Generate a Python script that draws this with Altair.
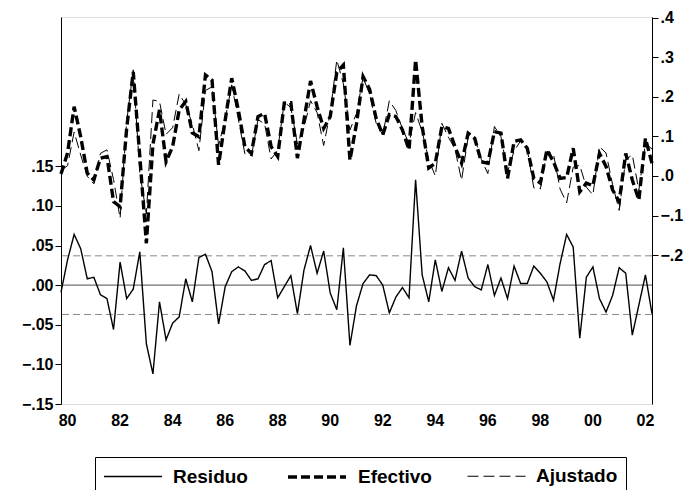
import altair as alt
import pandas as pd

# quarterly observations 1980Q2 .. 2002Q4
quarters = [str(p) for p in pd.period_range("1980Q2", "2002Q4", freq="Q")]

efectivo = [0.005, 0.058, 0.175, 0.099, 0.007, -0.010, 0.045, 0.049, -0.065, -0.078,
            0.120, 0.263, 0.050, -0.170, 0.080, 0.167, 0.036, 0.074, 0.167, 0.188,
            0.109, 0.099, 0.255, 0.242, 0.028, 0.141, 0.247, 0.167, 0.074, 0.057,
            0.150, 0.158, 0.074, 0.049, 0.184, 0.185, 0.045, 0.141, 0.240, 0.175,
            0.120, 0.150, 0.262, 0.280, 0.040, 0.132, 0.251, 0.219, 0.145, 0.104,
            0.155, 0.150, 0.116, 0.066, 0.293, 0.125, 0.020, 0.032, 0.125, 0.120,
            0.074, 0.032, 0.108, 0.095, 0.036, 0.032, 0.112, 0.108, -0.006, 0.087,
            0.091, 0.070, -0.006, -0.018, 0.066, 0.036, -0.006, -0.004, 0.070, -0.040,
            -0.018, -0.025, 0.057, 0.024, -0.035, -0.065, 0.057, -0.010, -0.061, 0.095,
            0.032]

ajustado = [0.014, 0.026, 0.111, 0.053, -0.001, -0.020, 0.057, 0.066, -0.009, -0.107,
            0.137, 0.268, 0.008, -0.096, 0.192, 0.188, 0.105, 0.122, 0.207, 0.180,
            0.130, 0.064, 0.216, 0.225, 0.077, 0.143, 0.230, 0.144, 0.056, 0.051,
            0.142, 0.132, 0.043, 0.065, 0.186, 0.173, 0.081, 0.122, 0.190, 0.160,
            0.077, 0.160, 0.293, 0.233, 0.116, 0.158, 0.249, 0.206, 0.133, 0.104,
            0.190, 0.165, 0.119, 0.082, 0.160, 0.112, 0.041, 0.000, 0.133, 0.098,
            0.068, -0.011, 0.099, 0.097, 0.042, 0.006, 0.125, 0.099, 0.011, 0.063,
            0.089, 0.068, -0.030, -0.033, 0.062, 0.055, -0.033, -0.068, 0.022, 0.027,
            -0.028, -0.048, 0.074, 0.058, -0.022, -0.087, 0.042, 0.053, -0.036, 0.082,
            0.068]

residuo = [-0.009, 0.032, 0.064, 0.046, 0.008, 0.010, -0.012, -0.017, -0.056, 0.029,
           -0.017, -0.005, 0.042, -0.074, -0.112, -0.021, -0.069, -0.048, -0.040, 0.008,
           -0.021, 0.035, 0.039, 0.017, -0.049, -0.002, 0.017, 0.023, 0.018, 0.006,
           0.008, 0.026, 0.031, -0.016, -0.002, 0.012, -0.036, 0.019, 0.050, 0.015,
           0.043, -0.010, -0.031, 0.047, -0.076, -0.026, 0.002, 0.013, 0.012, 0.000,
           -0.035, -0.015, -0.003, -0.016, 0.133, 0.013, -0.021, 0.032, -0.008, 0.022,
           0.006, 0.043, 0.009, -0.002, -0.006, 0.026, -0.013, 0.009, -0.017, 0.024,
           0.002, 0.002, 0.024, 0.015, 0.004, -0.019, 0.027, 0.064, 0.048, -0.067,
           0.010, 0.023, -0.017, -0.034, -0.013, 0.022, 0.015, -0.063, -0.025, 0.013,
           -0.036]

std_band = [0.037, -0.037]
year_labels = ["80", "82", "84", "86", "88", "90", "92", "94", "96", "98", "00", "02"]
year_label_pos = [1980.5, 1982.5, 1984.5, 1986.5, 1988.5, 1990.5, 1992.5, 1994.5,
                  1996.5, 1998.5, 2000.5, 2002.5]
year_ticks = list(range(1981, 2003))
left_ticks = [-0.15, -0.10, -0.05, 0.0, 0.05, 0.10, 0.15]
right_ticks = [-0.2, -0.1, 0.0, 0.1, 0.2, 0.3, 0.4]

series_names = ["Residuo", "Efectivo", "Ajustado"]

def qnum(q):
    return int(q[:4]) + (int(q[-1]) - 1) / 4

rows = []
for name, vals in zip(series_names, [residuo, efectivo, ajustado]):
    for q, v in zip(quarters, vals):
        rows.append({"serie": name, "t": qnum(q), "v": v})
df = pd.DataFrame(rows)

W, H = 591, 387
FONT = "Liberation Sans"

xscale = alt.Scale(domain=[1980.25, 2002.75], nice=False, zero=False)
lscale = alt.Scale(domain=[-0.15, 0.3384], nice=False, zero=False)
rscale = alt.Scale(domain=[-0.576, 0.4015], nice=False, zero=False)

legend = alt.Legend(
    title=None, orient="none", legendX=34, legendY=440, direction="horizontal",
    strokeColor="black", padding=8, symbolType="M-1,0H4.8", symbolSize=400,
    symbolStrokeColor="black", labelFont=FONT, labelFontSize=19,
    labelFontWeight="bold", labelColor="black", columnPadding=33,
    labelOffset=48, fillColor="white",
)
dash = alt.StrokeDash("serie:N", scale=alt.Scale(type="ordinal", domain=series_names,
                      range=[[1, 0], [9, 4], [11, 5]]), legend=legend)
sw = alt.StrokeWidth("serie:N", scale=alt.Scale(type="ordinal", domain=series_names,
                     range=[1.4, 3.4, 1.0]), legend=legend)

xax = alt.Axis(values=year_ticks, labels=False, title=None, tickSize=6,
               tickColor="black", domainColor="black", grid=False)

std_df = pd.DataFrame({"v": std_band})
zero_df = pd.DataFrame({"v": [0.0]})
lab_df = pd.DataFrame({"t": year_label_pos, "lab": year_labels})

stdlines = alt.Chart(std_df).mark_rule(color="#888888", strokeDash=[7, 4], strokeWidth=1).encode(
    y=alt.Y("v:Q", scale=lscale, axis=None))
zeroline = alt.Chart(zero_df).mark_rule(color="#707070", strokeWidth=1.3).encode(
    y=alt.Y("v:Q", scale=lscale, axis=None))

axis_common = dict(title=None, grid=False, tickSize=6, labelFont=FONT, labelFontSize=16,
                   labelFontWeight="bold", labelColor="black", tickColor="black",
                   domainColor="black", labelPadding=2)

resid = alt.Chart(df).transform_filter(alt.datum.serie == "Residuo").mark_line(
    color="black").encode(
    x=alt.X("t:Q", scale=xscale, axis=xax),
    y=alt.Y("v:Q", scale=lscale, axis=alt.Axis(
        values=left_ticks, orient="left",
        labelExpr="replace(format(datum.value, '.2f'), '0.', '.')", **axis_common)),
    strokeDash=dash, strokeWidth=sw, detail="serie:N")

actfit = alt.Chart(df).transform_filter(alt.datum.serie != "Residuo").mark_line(
    color="black").encode(
    x=alt.X("t:Q", scale=xscale, axis=None),
    y=alt.Y("v:Q", scale=rscale, axis=alt.Axis(
        values=right_ticks, orient="right",
        labelExpr="replace(format(datum.value, '.1f'), '0.', '.')", **axis_common)),
    strokeDash=dash, strokeWidth=sw, detail="serie:N")

xlabels = alt.Chart(lab_df).mark_text(font=FONT, fontSize=16, fontWeight="bold",
                                      color="black", baseline="top").encode(
    x=alt.X("t:Q", scale=xscale, axis=None),
    y=alt.value(H + 9),
    text="lab:N")

chart = alt.layer(stdlines, zeroline, resid, actfit, xlabels).resolve_scale(
    y="independent").properties(
    width=W, height=H,
    autosize=alt.AutoSizeParams(type="none"),
    padding={"left": 61, "top": 17, "right": 40, "bottom": 86},
).configure_view(stroke="black", strokeWidth=1.3).configure(background="white")

chart.save("out.html", embed_options={"renderer": "svg", "actions": False})
